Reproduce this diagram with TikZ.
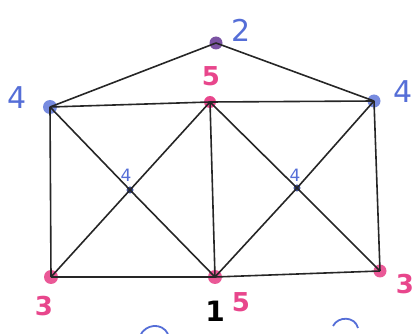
\documentclass[tikz,border=0pt]{standalone}
\usepackage{fontspec}
\setmainfont{DejaVu Sans}
\definecolor{pinkc}{RGB}{232,70,140}
\definecolor{bluec}{RGB}{85,110,215}
\definecolor{purplec}{RGB}{90,40,140}
\begin{document}
\begin{tikzpicture}[x=1pt,y=-1pt,
  vert/.style={circle,inner sep=0pt,minimum size=#1},
  edge/.style={line width=1.6pt,black!85},
  pinklab/.style={text=pinkc,font=\fontsize{26}{26}\selectfont\bfseries},
  bluelab/.style={text=bluec,font=\fontsize{30}{30}\selectfont},
  smallblue/.style={text=bluec,font=\fontsize{17}{17}\selectfont}]
\useasboundingbox (0,0) rectangle (416,334);
\clip (0,0) rectangle (416,334);
% vertices
\node[vert=13pt,fill=purplec!80] (T) at (216,43) {};
\node[vert=14pt,fill=bluec!80] (A) at (50,107) {};
\node[vert=12pt,fill=pinkc] (M) at (210,102) {};
\node[vert=13pt,fill=bluec!80] (B) at (374,101) {};
\node[vert=14pt,fill=pinkc!90] (C) at (51,277) {};
\node[vert=14pt,fill=pinkc!90] (D) at (215,277) {};
\node[vert=13pt,fill=pinkc!90] (E) at (380,271) {};
\node[vert=7pt,fill=bluec!70!black] (X1) at (130,190) {};
\node[vert=7pt,fill=bluec!70!black] (X2) at (297,188) {};
% edges
\draw[edge] (T.center) -- (A.center);
\draw[edge] (T.center) -- (B.center);
\draw[edge] (A.center) -- (M.center) -- (B.center);
\draw[edge] (A.center) -- (C.center);
\draw[edge] (M.center) -- (D.center);
\draw[edge] (B.center) -- (E.center);
\draw[edge] (C.center) -- (D.center) -- (E.center);
\draw[edge] (A.center) -- (X1.center) -- (D.center);
\draw[edge] (M.center) -- (X1.center) -- (C.center);
\draw[edge] (M.center) -- (X2.center) -- (E.center);
\draw[edge] (B.center) -- (X2.center) -- (D.center);
% labels
\node[bluelab] (lT) at (241,30) {2};
\node[pinklab] (lM) at (211,76) {5};
\node[bluelab] (lA) at (17,98) {4};
\node[bluelab] (lB) at (403,92) {4};
\node[smallblue] (lX1) at (126,175) {4};
\node[smallblue] (lX2) at (295,175) {4};
\node[pinklab] (lC) at (44,306) {3};
\node[font=\fontsize{28}{28}\selectfont\bfseries] (lD) at (215,311) {1};
\node[pinklab] (lD2) at (241,302) {5};
\node[pinklab] (lE) at (405,284) {3};
% partial strokes at the bottom edge
\draw[bluec,line width=1.8pt] (140,336) .. controls (145,324) and (162,322) .. (168,334);
\draw[bluec,line width=1.8pt] (333,326) .. controls (338,316) and (355,316) .. (358,328);
\end{tikzpicture}
\end{document}
